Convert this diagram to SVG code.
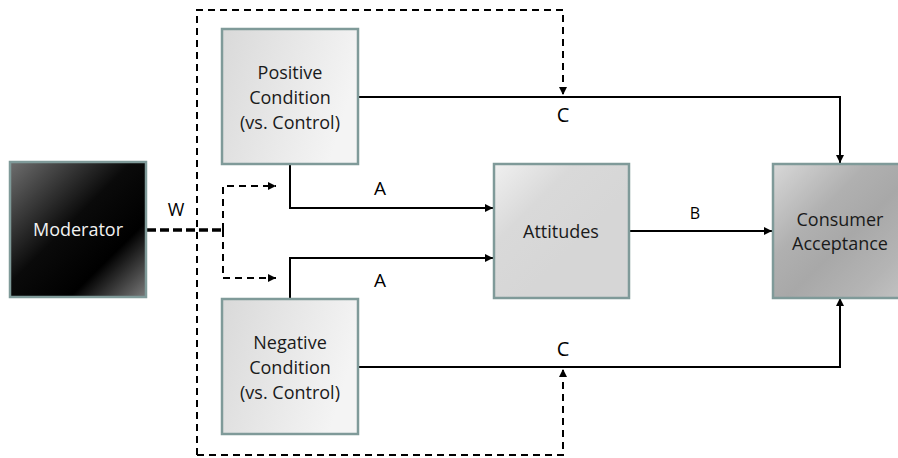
<svg xmlns="http://www.w3.org/2000/svg" width="898" height="458" viewBox="0 0 898 458">
<defs>
<linearGradient id="gMod" x1="0" y1="0" x2="1" y2="1">
<stop offset="0" stop-color="#6e6e6e"/>
<stop offset="0.45" stop-color="#0a0a0a"/>
<stop offset="0.72" stop-color="#000"/>
<stop offset="1" stop-color="#7a7a7a"/>
</linearGradient>
<linearGradient id="gCond" x1="0" y1="0" x2="1" y2="0.3">
<stop offset="0" stop-color="#d9d9d9"/>
<stop offset="1" stop-color="#f4f4f4"/>
</linearGradient>
<linearGradient id="gAtt" x1="0" y1="0" x2="0.6" y2="0.6">
<stop offset="0" stop-color="#f0f0f0"/>
<stop offset="0.5" stop-color="#d9d9d9"/>
<stop offset="1" stop-color="#d6d6d6"/>
</linearGradient>
<linearGradient id="gCon" x1="0" y1="0" x2="1" y2="1">
<stop offset="0" stop-color="#d8d8d8"/>
<stop offset="0.35" stop-color="#b0b0b0"/>
<stop offset="0.55" stop-color="#a8a8a8"/>
<stop offset="0.8" stop-color="#b4b4b4"/>
<stop offset="1" stop-color="#c4c4c4"/>
</linearGradient>
<marker id="ah" viewBox="0 0 10 10" refX="10" refY="5" markerWidth="9" markerHeight="8" markerUnits="userSpaceOnUse" orient="auto">
<path d="M0,0 L10,5 L0,10 z" fill="#000"/>
</marker>
<style>
.box{stroke:#7f9a99;stroke-width:2.5}
.t{font-family:"Open Sans","Liberation Sans",sans-serif;font-size:18px;fill:#1a1a1a;text-anchor:middle}
.w{fill:#f2f2f2}
.lbl{font-family:"Open Sans","Liberation Sans",sans-serif;fill:#000;text-anchor:middle}
.s{fill:none;stroke:#000;stroke-width:2}
.d{fill:none;stroke:#000;stroke-width:2;stroke-dasharray:7 5}
.dt{fill:none;stroke:#000;stroke-width:3.5;stroke-dasharray:9 4}
</style>
</defs>
<rect width="898" height="458" fill="#fff"/>
<g id="connectors">
<path class="d" d="M197,455 L197,10 L563,10 L563,95" marker-end="url(#ah)"/>
<path class="d" d="M197,455 L563,455 L563,369" marker-end="url(#ah)"/>
<path class="dt" d="M147,230 L223,230"/>
<path class="d" d="M223,230 L223,186 L276,186" marker-end="url(#ah)"/>
<path class="d" d="M223,230 L223,278 L276,278" marker-end="url(#ah)"/>
<path class="s" d="M358,97 L840,97 L840,163" marker-end="url(#ah)"/>
<path class="s" d="M358,367 L840,367 L840,298" marker-end="url(#ah)"/>
<path class="s" d="M290,164 L290,208 L493,208" marker-end="url(#ah)"/>
<path class="s" d="M290,299 L290,258 L493,258" marker-end="url(#ah)"/>
<path class="s" d="M629,231 L772,231" marker-end="url(#ah)"/>
<text class="lbl" x="176" y="216" font-size="18">W</text>
<text class="lbl" x="380" y="195" font-size="19">A</text>
<text class="lbl" x="380" y="287" font-size="19">A</text>
<text class="lbl" x="695" y="219" font-size="16">B</text>
<text class="lbl" x="563" y="122" font-size="20">C</text>
<text class="lbl" x="563" y="356" font-size="20">C</text>
</g>
<g id="moderator">
<rect class="box" x="10" y="162" width="136" height="135" fill="url(#gMod)"/>
<text class="t w" x="78" y="236">Moderator</text>
</g>
<g id="positive">
<rect class="box" x="222" y="29" width="136" height="135" fill="url(#gCond)"/>
<text class="t" x="290" y="79">Positive</text>
<text class="t" x="290" y="104">Condition</text>
<text class="t" x="290" y="129">(vs. Control)</text>
</g>
<g id="negative">
<rect class="box" x="222" y="299" width="136" height="135" fill="url(#gCond)"/>
<text class="t" x="290" y="349">Negative</text>
<text class="t" x="290" y="374">Condition</text>
<text class="t" x="290" y="399">(vs. Control)</text>
</g>
<g id="attitudes">
<rect class="box" x="494" y="164" width="135" height="134" fill="url(#gAtt)"/>
<text class="t" x="561" y="238">Attitudes</text>
</g>
<g id="consumer">
<rect class="box" x="773" y="164" width="136" height="134" fill="url(#gCon)"/>
<text class="t" x="840" y="226">Consumer</text>
<text class="t" x="840" y="250">Acceptance</text>
</g>
</svg>
